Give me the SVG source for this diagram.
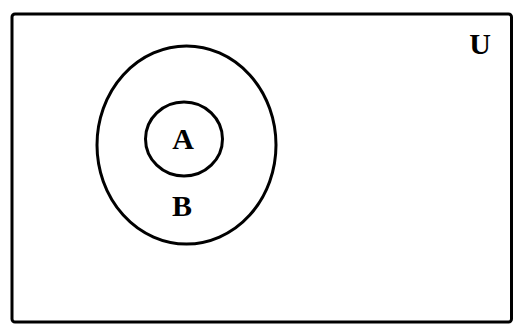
<svg xmlns="http://www.w3.org/2000/svg" width="517" height="327" viewBox="0 0 517 327">
<style>
.s{fill:none;stroke:#000;stroke-width:3}
.t{font-family:"Liberation Serif",serif;font-weight:bold;font-size:30px;fill:#000;text-anchor:middle}
</style>
<rect width="517" height="327" fill="#fff"/>
<g id="U">
<rect class="s" x="12" y="14" width="499.5" height="308" rx="3"/>
<text class="t" x="480" y="54">U</text>
</g>
<g id="B">
<ellipse class="s" cx="186.5" cy="145" rx="89.5" ry="99"/>
<text class="t" x="182" y="216">B</text>
</g>
<g id="A">
<ellipse class="s" cx="184" cy="139" rx="38.5" ry="37"/>
<text class="t" x="183" y="149">A</text>
</g>
<g id="connectors"/>
</svg>
